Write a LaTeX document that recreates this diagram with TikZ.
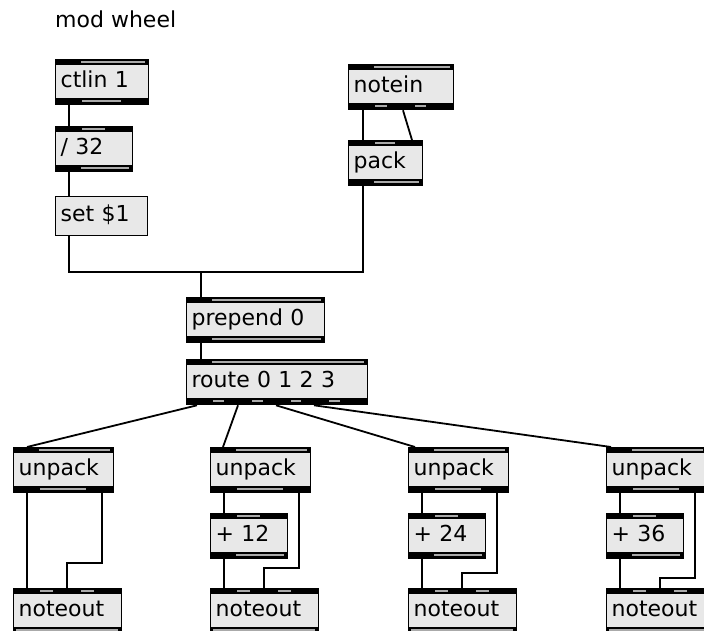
\documentclass[tikz,border=0pt]{standalone}
\usepackage{fontspec}
\setmainfont{DejaVu Sans}
\definecolor{boxgray}{RGB}{232,232,232}
\definecolor{stripegray}{RGB}{170,170,170}
\tikzset{
  mx/.style={draw=black, line width=1.3pt, fill=boxgray, anchor=north west,
    minimum height=45pt, inner xsep=5pt, inner ysep=0pt, align=left,
    text height=16pt, text depth=5pt, font=\fontsize{22}{24}\selectfont},
  stripe/.style={fill=stripegray},
  cord/.style={line width=1.8pt, black},
}
% name, width, number of ports, band top offset
\newcommand\mxband[4]{%
  \begin{scope}[shift={(#1.north west)}]
    \fill[black] (0,#4) rectangle (#2,#4+6);
    \ifnum#3=0 \fill[stripe] (3,#4+2.2) rectangle (#2-3,#4+3.8);\fi
    \ifnum#3=1 \fill[stripe] (26,#4+2.2) rectangle (#2-3,#4+3.8);\fi
    \ifnum#3>1
      \pgfmathsetmacro\mxs{(#2-26)/(#3-1)}%
      \pgfmathtruncatemacro\mxm{#3-2}%
      \foreach \i in {0,...,\mxm}{\fill[stripe] ({\i*\mxs+27},#4+2.2) rectangle ({(\i+1)*\mxs-1},#4+3.8);}%
    \fi
  \end{scope}}
% name, x, y, width, text, inlets, outlets
\newcommand\mxbox[7]{%
  \pgfmathsetmacro\mxtw{#4-10}%
  \node[mx, text width=\mxtw pt] (#1) at (#2,#3) {#5};
  \mxband{#1}{#4}{#6}{0}
  \mxband{#1}{#4}{#7}{39}}
\begin{document}
\begin{tikzpicture}[x=1pt,y=-1pt]
\useasboundingbox (0,0) rectangle (704,631);
\fill[white] (0,0) rectangle (704,631);
\clip (0,0) rectangle (704,631);

\node[anchor=base west, font=\fontsize{22}{24}\selectfont, inner sep=0pt] (title) at (55,28) {mod wheel};

\mxbox{ctl}{55}{59}{93}{ctlin 1}{1}{2}
\mxbox{div}{55}{126}{77}{/ 32}{2}{1}
\node[mx, minimum height=39pt, text width=82pt] (setm) at (55,196) {set \$1};
\mxbox{ni}{348}{64}{105}{notein}{1}{3}
\mxbox{pk}{348}{140}{74}{pack}{2}{1}
\mxbox{pre}{186}{297}{138}{prepend 0}{1}{1}
\mxbox{rt}{186}{359}{181}{route 0 1 2 3}{1}{5}

\mxbox{u1}{13}{447}{100}{unpack}{1}{2}
\mxbox{u2}{210}{447}{100}{unpack}{1}{2}
\mxbox{u3}{408}{447}{100}{unpack}{1}{2}
\mxbox{u4}{606}{447}{100}{unpack}{1}{2}

\mxbox{p2}{210}{513}{77}{+ 12}{2}{1}
\mxbox{p3}{408}{513}{77}{+ 24}{2}{1}
\mxbox{p4}{606}{513}{77}{+ 36}{2}{1}

\mxbox{n1}{13}{588}{108}{noteout}{3}{0}
\mxbox{n2}{210}{588}{108}{noteout}{3}{0}
\mxbox{n3}{408}{588}{108}{noteout}{3}{0}
\mxbox{n4}{606}{588}{108}{noteout}{3}{0}

\coordinate (jn) at ([xshift=15pt,yshift=25pt]pre.north west);

% connections
\draw[cord] ([xshift=14pt]ctl.south west) -- ([xshift=14pt]div.north west);
\draw[cord] ([xshift=14pt]div.south west) -- ([xshift=14pt]setm.north west);
\draw[cord] ([xshift=14pt]setm.south west) |- (jn) -- ([xshift=15pt]pre.north west);
\draw[cord] ([xshift=15pt]ni.south west) -- ([xshift=15pt]pk.north west);
\draw[cord] ([xshift=55pt]ni.south west) -- ([xshift=64pt]pk.north west);
\draw[cord] ([xshift=15pt]pk.south west) |- (jn);
\draw[cord] ([xshift=15pt]pre.south west) -- ([xshift=15pt]rt.north west);

\draw[cord] ([xshift=11pt]rt.south west) -- ([xshift=14pt]u1.north west);
\draw[cord] ([xshift=52pt]rt.south west) -- ([xshift=13pt]u2.north west);
\draw[cord] ([xshift=90pt]rt.south west) -- ([xshift=7pt]u3.north west);
\draw[cord] ([xshift=128pt]rt.south west) -- ([xshift=5pt]u4.north west);

\draw[cord] ([xshift=14pt]u1.south west) -- ([xshift=14pt]n1.north west);
\draw[cord] ([xshift=89pt]u1.south west) |- ([xshift=54pt,yshift=25pt]n1.north west) -- ([xshift=54pt]n1.north west);

\draw[cord] ([xshift=14pt]u2.south west) -- ([xshift=14pt]p2.north west);
\draw[cord] ([xshift=14pt]p2.south west) -- ([xshift=14pt]n2.north west);
\draw[cord] ([xshift=89pt]u2.south west) |- ([xshift=54pt,yshift=20pt]n2.north west) -- ([xshift=54pt]n2.north west);

\draw[cord] ([xshift=14pt]u3.south west) -- ([xshift=14pt]p3.north west);
\draw[cord] ([xshift=14pt]p3.south west) -- ([xshift=14pt]n3.north west);
\draw[cord] ([xshift=89pt]u3.south west) |- ([xshift=54pt,yshift=15pt]n3.north west) -- ([xshift=54pt]n3.north west);

\draw[cord] ([xshift=14pt]u4.south west) -- ([xshift=14pt]p4.north west);
\draw[cord] ([xshift=14pt]p4.south west) -- ([xshift=14pt]n4.north west);
\draw[cord] ([xshift=89pt]u4.south west) |- ([xshift=54pt,yshift=10pt]n4.north west) -- ([xshift=54pt]n4.north west);
\end{tikzpicture}
\end{document}
